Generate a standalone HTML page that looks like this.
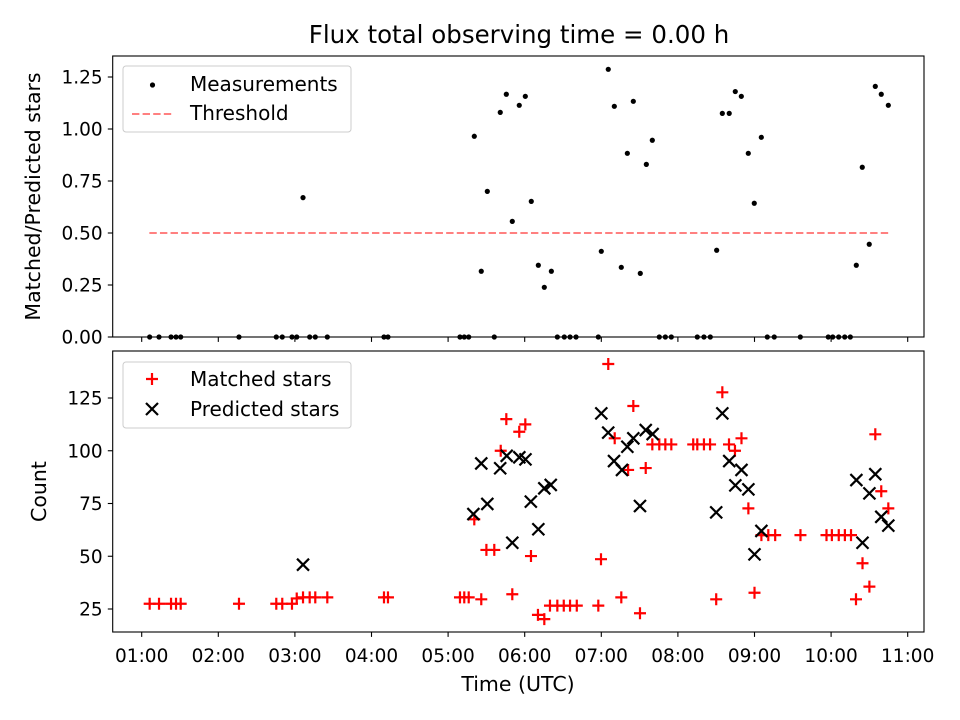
<!DOCTYPE html>
<html><head><meta charset="utf-8"><style>
html,body{margin:0;padding:0;background:#fff;}
svg{display:block;font-family:"DejaVu Sans","Liberation Sans",sans-serif;}
</style></head><body>
<svg id="chart" width="960" height="720" viewBox="0 0 960 720" xmlns="http://www.w3.org/2000/svg">
<rect width="960" height="720" fill="#fff"/>
<text x="519" y="43" font-size="24.5" text-anchor="middle">Flux total observing time = 0.00 h</text>
<g id="topPanel"></g>
<g id="botPanel"></g>
</svg>
<script>
// data (hours UTC as decimal)
const timeTicks=[1,2,3,4,5,6,7,8,9,10,11];
const timeTickLabels=["01:00","02:00","03:00","04:00","05:00","06:00","07:00","08:00","09:00","10:00","11:00"];
const ratioTicks=[0,0.25,0.5,0.75,1.0,1.25];
const ratioTickLabels=["0.00","0.25","0.50","0.75","1.00","1.25"];
const countTicks=[25,50,75,100,125];
const countTickLabels=["25","50","75","100","125"];
const threshold=0.5;
const thresholdStart=1.1, thresholdEnd=10.77;
const measTimes=[1.104,1.226,1.383,1.448,1.509,2.27,2.757,2.835,2.962,3.024,3.106,3.193,3.266,3.423,4.163,4.215,5.155,5.211,5.269,5.342,5.433,5.512,5.603,5.681,5.76,5.838,5.929,6.008,6.086,6.178,6.256,6.348,6.426,6.517,6.592,6.67,6.961,7.0,7.091,7.17,7.261,7.34,7.418,7.509,7.588,7.666,7.757,7.836,7.914,8.253,8.34,8.423,8.506,8.58,8.67,8.749,8.828,8.919,8.997,9.089,9.167,9.258,9.598,9.963,10.021,10.099,10.178,10.251,10.329,10.407,10.498,10.577,10.655,10.747];
const measRatios=[0,0,0,0,0,0,0,0,0,0,0.67,0,0,0,0,0,0,0,0,0.965,0.316,0.70,0,1.08,1.167,0.556,1.114,1.157,0.652,0.345,0.239,0.316,0,0,0,0,0,0.412,1.287,1.109,0.335,0.883,1.133,0.306,0.83,0.946,0,0,0,0,0,0,0.417,1.075,1.075,1.18,1.157,0.883,0.643,0.96,0,0,0,0,0,0,0,0,0.345,0.816,0.446,1.205,1.167,1.114];
const matchedTimes=[1.104,1.226,1.383,1.448,1.509,2.27,2.757,2.835,2.962,3.024,3.106,3.193,3.266,3.423,4.163,4.215,5.155,5.211,5.269,5.342,5.433,5.5,5.603,5.687,5.76,5.838,5.929,6.008,6.082,6.173,6.256,6.33,6.426,6.51,6.592,6.68,6.961,6.996,7.091,7.175,7.261,7.35,7.418,7.505,7.58,7.666,7.757,7.836,7.914,8.2,8.253,8.34,8.42,8.5,8.58,8.667,8.745,8.83,8.92,9.0,9.09,9.18,9.27,9.6,9.94,10.01,10.1,10.18,10.26,10.325,10.41,10.5,10.577,10.655,10.747];
const matchedCounts=[27.5,27.5,27.5,27.5,27.5,27.5,27.5,27.5,27.5,30,30.5,30.5,30.5,30.5,30.5,30.5,30.5,30.5,30.5,67.5,29.6,53,53,100,115,32,109,112.5,50.1,22.2,20.2,26.6,26.6,26.6,26.6,26.6,26.6,48.6,141.1,105.9,30.5,90.9,121.2,23,91.8,103,103,103,103,103,103,103,103,29.6,127.7,103,100,105.9,72.7,32.7,60,60,60,60,60,60,60,60,60,29.6,46.7,35.6,107.8,80.8,72.7];
const predTimes=[3.106,5.33,5.433,5.512,5.68,5.765,5.838,5.93,6.01,6.08,6.178,6.256,6.34,7.0,7.09,7.166,7.27,7.34,7.418,7.505,7.58,7.67,8.5,8.58,8.67,8.75,8.83,8.92,9.0,9.09,10.33,10.41,10.5,10.577,10.655,10.747];
const predCounts=[46,70,94,74.8,91.7,97.6,56.4,96.9,95.9,75.9,62.8,82.2,83.8,117.7,108.6,95.1,90.9,101.9,105.9,73.8,109.8,107.9,70.8,117.7,95.1,83.6,90.9,81.7,50.9,62,86.1,56.4,79.8,88.9,68.7,64.5];

const NS="http://www.w3.org/2000/svg";
const L=112.7,R=924;
const FS=18.5, AF=20.5;
const xS=h=>141.7+(h-1)*76.6;
const TP={top:56,bot:337}, BP={top:351,bot:632};
const yTop=v=>337-v*208;
const yBot=c=>609-(c-25)*2.11;
function mk(parent,tag,attrs){const e=document.createElementNS(NS,tag);for(const k in attrs)e.setAttribute(k,attrs[k]);parent.appendChild(e);return e;}
const topG=document.getElementById('topPanel'), botG=document.getElementById('botPanel');

function axes(g,P,yTicks,yLabels,yF,showX,ylab,ylabX){
  mk(g,'rect',{x:L,y:P.top,width:R-L,height:P.bot-P.top,fill:'none',stroke:'#000','stroke-width':1.1});
  timeTicks.forEach((t,i)=>{
    const tk=mk(g,'line',{x1:xS(t),x2:xS(t),y1:P.bot,y2:P.bot+4.9,stroke:'#000','stroke-width':1.1});
    
    
    if(showX){const tx=mk(g,'text',{x:xS(t),y:P.bot+30,'font-size':FS,'text-anchor':'middle'});tx.textContent=timeTickLabels[i];
      
      }
  });
  yTicks.forEach((v,i)=>{
    const y=yF(v);
    const tk=mk(g,'line',{x1:L-4.9,x2:L,y1:y,y2:y,stroke:'#000','stroke-width':1.1});
    
    
    const tx=mk(g,'text',{x:L-10,y:y+6.5,'font-size':FS,'text-anchor':'end'});tx.textContent=yLabels[i];
    
    
  });
  const yl=mk(g,'text',{x:0,y:0,'font-size':AF,'text-anchor':'middle',transform:`translate(${ylabX},${(P.top+P.bot)/2}) rotate(-90)`});
  yl.textContent=ylab;
  
  
}
axes(topG,TP,ratioTicks,ratioTickLabels,yTop,false,'Matched/Predicted stars',40);
axes(botG,BP,countTicks,countTickLabels,yBot,true,'Count',46);
const xl=mk(botG,'text',{x:518,y:691,'font-size':AF,'text-anchor':'middle'});xl.textContent='Time (UTC)';



const th=mk(topG,'line',{x1:xS(thresholdStart),x2:xS(thresholdEnd),y1:yTop(threshold),y2:yTop(threshold),stroke:'#ff8080','stroke-width':2,'stroke-dasharray':'7.4,3.2'});


measTimes.forEach((t,i)=>{
  const c=mk(topG,'circle',{cx:xS(t),cy:yTop(measRatios[i]),r:2.6,fill:'#000'});
  
  
});
mk(topG,'line',{x1:L,x2:R,y1:TP.bot,y2:TP.bot,stroke:'#000','stroke-width':1.1});

function plus(g,x,y){return mk(g,'path',{d:`M${x-6},${y}H${x+6}M${x},${y-6}V${y+6}`,stroke:'#f00','stroke-width':2.2,fill:'none'});}
function cross(g,x,y){return mk(g,'path',{d:`M${x-6},${y-6}L${x+6},${y+6}M${x-6},${y+6}L${x+6},${y-6}`,stroke:'#000','stroke-width':2.2,fill:'none'});}
matchedTimes.forEach((t,i)=>{
  const p=plus(botG,xS(t),yBot(matchedCounts[i]));
  
  
});
predTimes.forEach((t,i)=>{
  const p=cross(botG,xS(t),yBot(predCounts[i]));
  
  
});

function legend(g,y0,h,name){
  const r=mk(g,'rect',{x:123,y:y0,width:228,height:h,rx:3,fill:'#fff','fill-opacity':0.8,stroke:'#ccc','stroke-width':1});
  
  
}
const LF=20;
legend(topG,66,66,'ratio-legend');
const ld=mk(topG,'circle',{cx:152.5,cy:85,r:2.6,fill:'#000'});


let t1=mk(topG,'text',{x:190,y:91,'font-size':LF});t1.textContent='Measurements';


const ll=mk(topG,'line',{x1:132,x2:173,y1:114,y2:114,stroke:'#ff8080','stroke-width':2,'stroke-dasharray':'7.4,3.2'});


let t2=mk(topG,'text',{x:190,y:120,'font-size':LF});t2.textContent='Threshold';



legend(botG,362,66,'count-legend');
const lp=plus(botG,152,379);


let t3=mk(botG,'text',{x:190,y:386,'font-size':LF});t3.textContent='Matched stars';


const lx=cross(botG,152,409);


let t4=mk(botG,'text',{x:190,y:416,'font-size':LF});t4.textContent='Predicted stars';


</script>
</body></html>
